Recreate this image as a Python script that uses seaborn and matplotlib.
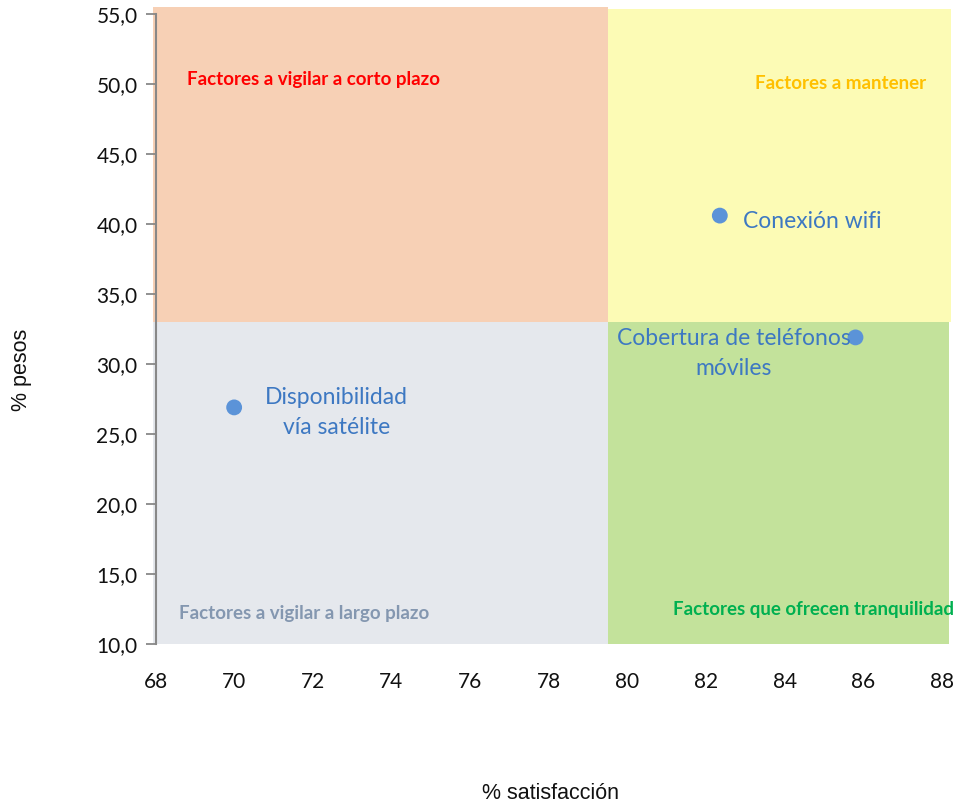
import matplotlib
matplotlib.use("Agg")
import matplotlib.pyplot as plt
from matplotlib.patches import Rectangle
import seaborn as sns
import pandas as pd

# Factors: satisfaction (%) vs weight (%)
factors = ["Disponibilidad\nvía satélite", "Conexión wifi", "Cobertura de teléfonos\nmóviles"]
satisfaccion = [70.0, 82.35, 85.8]
pesos = [26.9, 40.6, 31.9]

# Quadrant split points
x_split = 79.5
y_split = 33.0

x_ticks = [68, 70, 72, 74, 76, 78, 80, 82, 84, 86, 88]
y_ticks = [10, 15, 20, 25, 30, 35, 40, 45, 50, 55]

df = pd.DataFrame({"factor": factors, "sat": satisfaccion, "peso": pesos})

sns.set_theme(style="white")
plt.rcParams["font.family"] = ["Lato", "DejaVu Sans"]

fig = plt.figure(figsize=(9.57, 8.05), dpi=100)
ax = fig.add_axes([155.5 / 957, 1 - 644 / 805, (942 - 155.5) / 957, (644 - 14) / 805])

ax.set_xlim(68, 88)
ax.set_ylim(10, 55)

# Quadrant backgrounds
quads = [
    (67.94, y_split, x_split - 67.94, 55.5 - y_split, "#F7D0B5"),
    (x_split, y_split, 88.23 - x_split, 55.35 - y_split, "#FCFBB5"),
    (67.94, 10, x_split - 67.94, y_split - 10, "#E5E8ED"),
    (x_split, 10, 88.18 - x_split, y_split - 10, "#C3E29B"),
]
for x0, y0, w, h, c in quads:
    ax.add_patch(Rectangle((x0, y0), w, h, facecolor=c, edgecolor="none",
                           zorder=0, clip_on=False))

sns.scatterplot(data=df, x="sat", y="peso", ax=ax, s=130, color="#5B93D8",
                edgecolor="none", zorder=3, legend=False)

lab_color = "#3D78C2"
lab_kw = dict(fontsize=16.5, color=lab_color, zorder=4)
ax.text(72.6, 26.55, factors[0], ha="center", va="center",
        linespacing=1.55, **lab_kw)
ax.text(82.95, 40.2, factors[1], ha="left", va="center", **lab_kw)
ax.text(82.7, 30.75, factors[2], ha="center", va="center",
        linespacing=1.55, **lab_kw)

# Quadrant titles
title_kw = dict(fontsize=13.5, fontweight="bold", va="center")
ax.text(68.8, 50.3, "Factores a vigilar a corto plazo", color="#FF0000",
        ha="left", **title_kw)
ax.text(87.6, 50.0, "Factores a mantener", color="#FFC000",
        ha="right", **title_kw)
ax.text(68.6, 12.2, "Factores a vigilar a largo plazo", color="#8497B0",
        ha="left", **title_kw)
ax.text(88.3, 12.5, "Factores que ofrecen tranquilidad", color="#00B050",
        ha="right", **title_kw)

ax.set_xticks(x_ticks)
ax.set_xticklabels([str(v) for v in x_ticks])
ax.set_yticks(y_ticks)
ax.set_yticklabels([f"{v:.1f}".replace(".", ",") for v in y_ticks])
ax.tick_params(axis="x", length=0, pad=20, labelsize=15, labelcolor="#111111")
ax.tick_params(axis="y", length=7, width=1.3, color="#888888", pad=6,
               labelsize=15, labelcolor="#111111", left=True)

for side in ["top", "right", "bottom"]:
    ax.spines[side].set_visible(False)
ax.spines["left"].set_color("#888888")
ax.spines["left"].set_linewidth(1.5)
ax.spines["left"].set_zorder(5)

ax.set_xlabel("")
ax.set_ylabel("")
fig.text(550 / 957, 1 - 793 / 805, "% satisfacción", fontsize=15.5,
         family="Liberation Sans", color="#111111", ha="center", va="center")
fig.text(21 / 957, 1 - 370 / 805, "% pesos", fontsize=15.5, rotation=90,
         family="Liberation Sans", color="#111111", ha="center", va="center")

fig.savefig("out.png", dpi=100)
